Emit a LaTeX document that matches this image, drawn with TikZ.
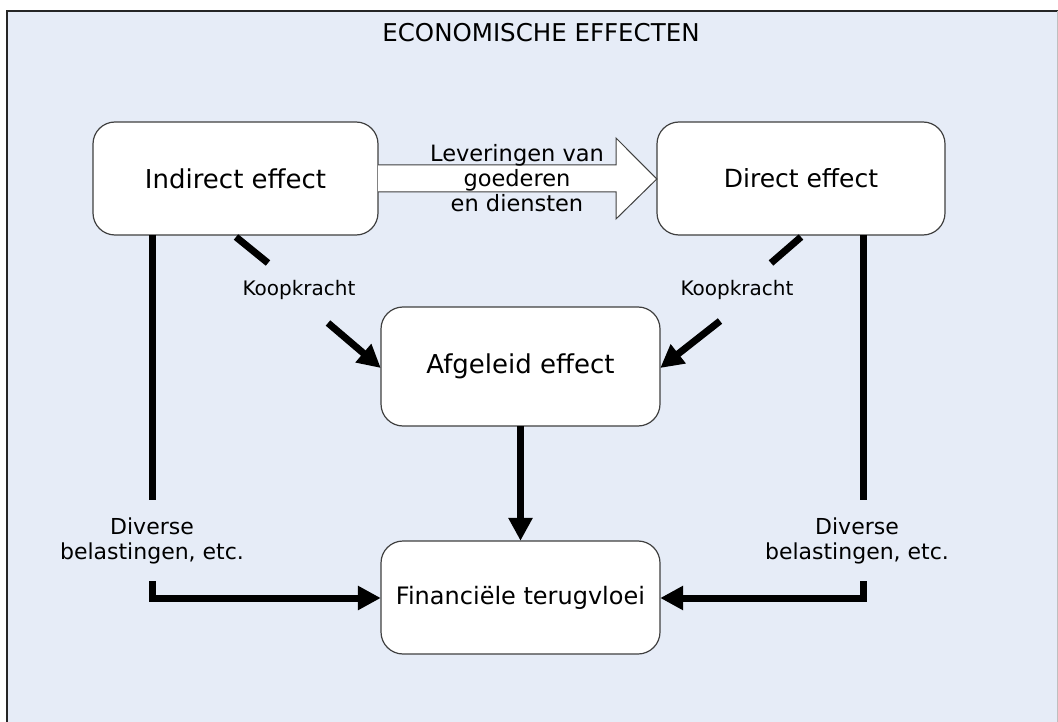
\documentclass[tikz,border=0pt]{standalone}
\usepackage{fontspec}
\setmainfont{DejaVu Sans}
\usetikzlibrary{arrows.meta,shapes.arrows}
\definecolor{bgblue}{HTML}{E6ECF7}
\definecolor{boxline}{HTML}{404040}
\tikzset{
  x=1pt,y=-1pt,
  effbox/.style={draw=boxline,line width=1.2pt,fill=white,rounded corners=22pt},
  efftext/.style={font=\fontsize{25}{30}\selectfont,inner sep=0pt},
  flow/.style={line width=7pt,-{Triangle[length=23pt,width=23pt]}},
  lbl/.style={font=\fontsize{20}{25}\selectfont,align=center,inner sep=0pt},
  biglbl/.style={font=\fontsize{22.5}{25}\selectfont,align=center,inner sep=0pt},
}
\begin{document}
\begin{tikzpicture}
\useasboundingbox (0,0) rectangle (1058,722);
\fill[bgblue] (7,11) rectangle (1058,722);
\draw[line width=2pt,black!85] (7,722) -- (7,11) -- (1058,11);
\draw[line width=1pt,gray!50] (1057,11) -- (1057,722);
\node[font=\fontsize{24.5}{29}\selectfont] (title) at (541,33) {ECONOMISCHE EFFECTEN};

\path[effbox] (93,122) rectangle (378,235);
\node[efftext,font=\fontsize{26}{30}\selectfont,minimum width=285pt,minimum height=113pt] (ind) at (235.5,178.5) {Indirect effect};
\path[effbox] (657,122) rectangle (945,235);
\node[efftext,minimum width=288pt,minimum height=113pt] (dir) at (801,178.5) {Direct effect};
\path[effbox] (381,307) rectangle (660,426);
\node[efftext,font=\fontsize{26}{30}\selectfont,minimum width=279pt,minimum height=119pt] (afg) at (520.5,366.5) {Afgeleid effect};
\path[effbox] (381,541) rectangle (660,654);
\node[efftext,font=\fontsize{24}{30}\selectfont,minimum width=279pt,minimum height=113pt] (fin) at (520.5,597.5) {Financiële terugvloei};

% big block arrow
\draw[boxline,line width=1pt,fill=white]
  (ind.east |- 0,165) -- (616,165) -- (616,138) -- (dir.west |- 0,179) -- (616,219) -- (616,192) -- (ind.east |- 0,192);
\node[biglbl] (lev) at (517,178) {Leveringen van\\goederen\\en diensten};

% Koopkracht left
\coordinate (kl1) at (236,237);
\coordinate (kl2) at (268,263);
\coordinate (kl3) at (328,323);
\draw[line width=7pt] (kl1) -- (kl2);
\node[lbl] (kpl) at (299,290) {Koopkracht};
\draw[flow] (kl3) -- (afg.west |- 0,368);

% Koopkracht right
\coordinate (kr1) at (801,237);
\coordinate (kr2) at (771,263);
\coordinate (kr3) at (720,321);
\draw[line width=7pt] (kr1) -- (kr2);
\node[lbl] (kpr) at (737,290) {Koopkracht};
\draw[flow] (kr3) -- (afg.east |- 0,368);

% middle
\draw[flow] (afg.south) -- (fin.north);

% left taxes
\coordinate (dl1) at (152,235);
\coordinate (dl2) at (152,500);
\coordinate (dl3) at (152,581);
\draw[line width=7pt] (dl1) -- (dl2);
\node[biglbl,font=\fontsize{22}{25}\selectfont] (dvl) at (152,541) {Diverse\\belastingen, etc.};
\draw[flow] (dl3) -- (152,598) -- (fin.west |- 0,598);

% right taxes
\coordinate (dr1) at (863,235);
\coordinate (dr2) at (863,500);
\coordinate (dr3) at (863,581);
\draw[line width=7pt] (dr1) -- (dr2);
\node[biglbl,font=\fontsize{22}{25}\selectfont] (dvr) at (857,541) {Diverse\\belastingen, etc.};
\draw[flow] (dr3) -- (863,598) -- (fin.east |- 0,598);
\end{tikzpicture}
\end{document}
